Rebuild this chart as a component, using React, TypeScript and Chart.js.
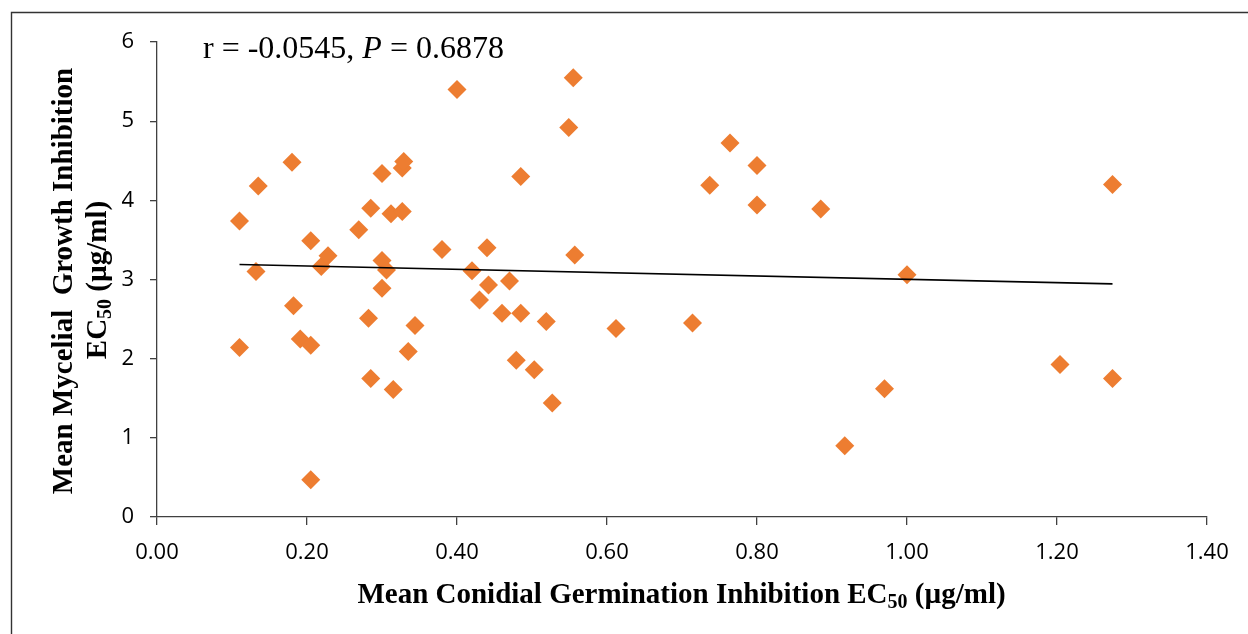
import React, { useEffect, useRef } from "react";
import { Chart, registerables } from "chart.js";

Chart.register(...registerables);

// Mean Conidial Germination Inhibition EC50 (x) and Mean Mycelial Growth Inhibition EC50 (y)
const conidialEC50 = [
  0.110, 0.110, 0.132, 0.135, 0.180, 0.182, 0.191, 0.205, 0.205, 0.205,
  0.219, 0.228, 0.269, 0.282, 0.285, 0.285, 0.300, 0.300, 0.300, 0.306,
  0.312, 0.315, 0.327, 0.329, 0.327, 0.335, 0.344, 0.380, 0.400, 0.420,
  0.430, 0.440, 0.442, 0.460, 0.470, 0.479, 0.485, 0.485, 0.503, 0.519,
  0.527, 0.549, 0.555, 0.557, 0.612, 0.714, 0.737, 0.764, 0.800, 0.800,
  0.885, 0.917, 0.970, 1.000, 1.204, 1.274, 1.274,
];
const mycelialEC50 = [
  3.74, 2.14, 3.10, 4.18, 4.48, 2.67, 2.25, 3.49, 2.17, 0.47,
  3.165, 3.30, 3.63, 2.51, 3.90, 1.75, 4.34, 3.24, 2.89, 3.12,
  3.83, 1.61, 4.41, 4.49, 3.86, 2.09, 2.42, 3.38, 5.40, 3.11,
  2.74, 3.40, 2.93, 2.575, 2.98, 1.98, 2.575, 4.30, 1.86, 2.47,
  1.44, 4.92, 5.55, 3.31, 2.38, 2.45, 4.19, 4.725, 4.44, 3.94,
  3.89, 0.90, 1.62, 3.06, 1.925, 4.20, 1.75,
];

// Linear trend line end points
const trendX = [0.11, 1.274];
const trendY = [3.19, 2.945];

const xTickValues = [0, 0.2, 0.4, 0.6, 0.8, 1.0, 1.2, 1.4];
const xTickLabels = ["0.00", "0.20", "0.40", "0.60", "0.80", "1.00", "1.20", "1.40"];
const yTickValues = [0, 1, 2, 3, 4, 5, 6];
const yTickLabels = ["0", "1", "2", "3", "4", "5", "6"];

const annotationParts = ["r = -0.0545, ", "P", " = 0.6878"];
const xTitleParts = ["Mean Conidial Germination Inhibition EC", "50", " (µg/ml)"];
const yTitleLine1 = "Mean Mycelial  Growth Inhibition";
const yTitleLine2Parts = ["EC", "50", " (µg/ml)"];

type Run = { text: string; font: string; dy: number };

function runsWidth(ctx: CanvasRenderingContext2D, runs: Run[]) {
  let w = 0;
  for (const r of runs) {
    ctx.font = r.font;
    w += ctx.measureText(r.text).width;
  }
  return w;
}
function drawRuns(ctx: CanvasRenderingContext2D, runs: Run[], x: number, y: number) {
  let cx = x;
  for (const r of runs) {
    ctx.font = r.font;
    ctx.fillText(r.text, cx, y + r.dy);
    cx += ctx.measureText(r.text).width;
  }
}

const SERIF = '"Liberation Serif", "Times New Roman", serif';

const textPlugin = {
  id: "customTexts",
  beforeDraw(chart: any) {
    const ctx = chart.ctx as CanvasRenderingContext2D;
    ctx.save();
    ctx.fillStyle = "#ffffff";
    ctx.fillRect(0, 0, chart.width, chart.height);
    ctx.strokeStyle = "#333333";
    ctx.lineWidth = 1.4;
    ctx.beginPath();
    ctx.moveTo(11.5, chart.height + 2);
    ctx.lineTo(11.5, 12.5);
    ctx.lineTo(chart.width + 2, 12.5);
    ctx.stroke();
    ctx.restore();
  },
  afterDraw(chart: any) {
    const ctx = chart.ctx as CanvasRenderingContext2D;
    ctx.save();
    ctx.fillStyle = "#000000";
    ctx.textAlign = "left";
    ctx.textBaseline = "alphabetic";

    // annotation
    const annRuns: Run[] = [
      { text: annotationParts[0], font: `32px ${SERIF}`, dy: 0 },
      { text: annotationParts[1], font: `italic 32px ${SERIF}`, dy: 0 },
      { text: annotationParts[2], font: `32px ${SERIF}`, dy: 0 },
    ];
    drawRuns(ctx, annRuns, 203, 58);

    // x title
    const xRuns: Run[] = [
      { text: xTitleParts[0], font: `bold 29px ${SERIF}`, dy: 0 },
      { text: xTitleParts[1], font: `bold 20px ${SERIF}`, dy: 5 },
      { text: xTitleParts[2], font: `bold 29px ${SERIF}`, dy: 0 },
    ];
    const xw = runsWidth(ctx, xRuns);
    drawRuns(ctx, xRuns, 681.5 - xw / 2, 603);

    // y title
    const l1: Run[] = [{ text: yTitleLine1, font: `bold 29px ${SERIF}`, dy: 0 }];
    const l2: Run[] = [
      { text: yTitleLine2Parts[0], font: `bold 29px ${SERIF}`, dy: 0 },
      { text: yTitleLine2Parts[1], font: `bold 20px ${SERIF}`, dy: 5 },
      { text: yTitleLine2Parts[2], font: `bold 29px ${SERIF}`, dy: 0 },
    ];
    ctx.save();
    ctx.translate(72, 281);
    ctx.rotate(-Math.PI / 2);
    drawRuns(ctx, l1, -runsWidth(ctx, l1) / 2, 0);
    ctx.restore();
    ctx.save();
    ctx.translate(106, 280);
    ctx.rotate(-Math.PI / 2);
    drawRuns(ctx, l2, -runsWidth(ctx, l2) / 2, 0);
    ctx.restore();

    ctx.restore();
  },
};

export default function App() {
  const canvasRef = useRef<HTMLCanvasElement | null>(null);

  useEffect(() => {
    if (!canvasRef.current) return;
    const points = conidialEC50.map((x, i) => ({ x, y: mycelialEC50[i] }));
    const trend = trendX.map((x, i) => ({ x, y: trendY[i] }));
    const tickFont = { family: '"Open Sans", "Noto Sans", sans-serif', size: 22 };

    const chart = new Chart(canvasRef.current, {
      type: "scatter",
      data: {
        datasets: [
          {
            type: "line",
            data: trend,
            borderColor: "#000000",
            borderWidth: 1.6,
            pointRadius: 0,
            fill: false,
            order: 0,
          } as any,
          {
            type: "scatter",
            data: points,
            pointStyle: "rectRot",
            pointRadius: 9.5,
            pointHoverRadius: 9.5,
            backgroundColor: "#ED7D31",
            borderColor: "#ED7D31",
            borderWidth: 0,
            order: 1,
          } as any,
        ],
      },
      options: {
        responsive: false,
        animation: false,
        devicePixelRatio: 1,
        layout: { padding: { left: 0, top: 42, right: 41, bottom: 0 } },
        plugins: {
          legend: { display: false },
          tooltip: { enabled: false },
        },
        scales: {
          x: {
            type: "linear",
            min: 0,
            max: 1.4,
            afterBuildTicks: (s: any) => {
              s.ticks = xTickValues.map((v) => ({ value: v }));
            },
            afterFit: (s: any) => {
              s.height = 117;
            },
            ticks: {
              callback: (_v: any, i: number) => xTickLabels[i],
              font: tickFont,
              color: "#000000",
              padding: 15,
              maxRotation: 0,
            },
            grid: {
              drawOnChartArea: false,
              drawTicks: true,
              tickLength: 8,
              color: "#404040",
              lineWidth: 1.3,
            },
            border: { display: true, color: "#404040", width: 1.3 },
          },
          y: {
            type: "linear",
            min: 0,
            max: 6,
            afterBuildTicks: (s: any) => {
              s.ticks = yTickValues.map((v) => ({ value: v }));
            },
            afterFit: (s: any) => {
              s.width = 157;
            },
            ticks: {
              callback: (_v: any, i: number) => yTickLabels[i],
              font: tickFont,
              color: "#000000",
              padding: 16,
            },
            grid: {
              drawOnChartArea: false,
              drawTicks: true,
              tickLength: 7,
              color: "#404040",
              lineWidth: 1.3,
            },
            border: { display: true, color: "#404040", width: 1.3 },
          },
        },
      } as any,
      plugins: [textPlugin],
    });
    return () => chart.destroy();
  }, []);

  return (
    <div style={{ position: "fixed", left: 0, top: 0, width: 1248, height: 634, background: "#fff" }}>
      <canvas ref={canvasRef} width={1248} height={634} style={{ display: "block" }} />
    </div>
  );
}
